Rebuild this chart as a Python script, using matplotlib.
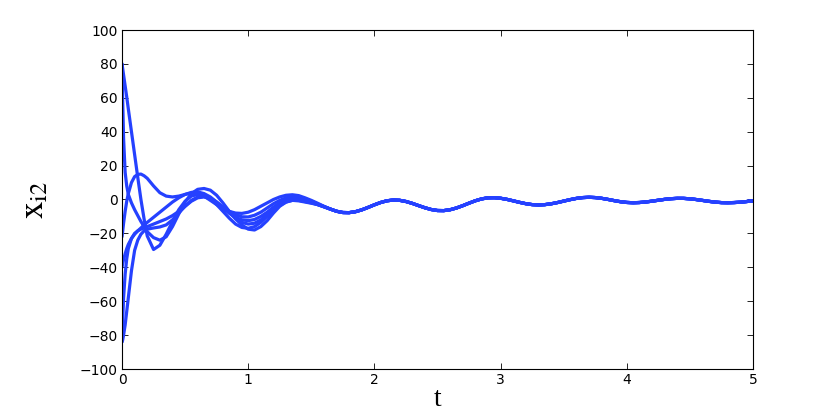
import numpy as np
import matplotlib
matplotlib.use("Agg")
import matplotlib.pyplot as plt

# ---- data ----
t_early = [0, 0.005, 0.0125, 0.025, 0.0375, 0.05, 0.075, 0.1, 0.125, 0.15,
           0.175, 0.2, 0.25, 0.3, 0.35, 0.4, 0.45, 0.5, 0.55, 0.6,
           0.65, 0.7, 0.75, 0.8, 0.85, 0.9, 0.95, 1.0, 1.05, 1.1,
           1.15, 1.2, 1.25, 1.3, 1.35, 1.4, 1.45, 1.5, 1.55, 1.6]

curve1 = [80, 77.5, 73.5, 67, 60.5, 53.5, 40, 26.5, 13, 0,
          -11.5, -21.5, -29.5, -27, -20.5, -13, -6, -1, 2, 3,
          2.5, 0.5, -3, -7, -11, -14.5, -16.5, -17, -16, -13.5,
          -10, -6.5, -3.5, -1.5, -0.5, -0.8, -1.5, -2.2, -3.0, -4.3]
curve2 = [80, 60, 36, 16, 8, 3, -2, -6, -9.5, -13,
          -16, -19, -22.5, -24, -22, -16, -8.5, -1.5, 3.5, 6,
          6.5, 5.5, 2.5, -2, -7, -11.5, -15, -17.5, -18, -16,
          -12.5, -8, -4, -1.5, -0.5, -0.5, -1.2, -2, -3, -4.3]
curve3 = [-22, -19, -14, -7, -1, 3.5, 10, 13.5, 14.8, 15,
          14, 12.5, 8, 4, 2, 1.5, 2, 3, 3.8, 3.5,
          2, -0.5, -3, -5.5, -7, -8, -8.2, -7.5, -6, -4,
          -2, 0, 1.5, 2.5, 2.8, 2.3, 1, -0.5, -2.2, -4]
curve4 = [-40, -38, -35.5, -32, -29, -26.5, -23, -20.5, -18.5, -16.8,
          -15, -13.5, -10.5, -7.5, -4.5, -1.5, 1, 3, 4.2, 4.5,
          3.5, 1.5, -1.5, -4.5, -7, -9, -10.2, -10.3, -9.3, -7.5,
          -5, -2.5, -0.5, 1, 1.8, 1.5, 0.5, -1, -2.6, -4.1]
curve5 = [-84, -72, -58, -44, -35, -29, -23, -20, -18.5, -17.5,
          -16.8, -16, -14.5, -13, -11.5, -9.5, -7, -4, -1, 1,
          1.5, 0.5, -2, -5, -8, -10.5, -12, -12.5, -11.8, -10,
          -7.5, -4.5, -2, 0, 1, 1, 0.2, -1.2, -2.7, -4.2]
curve6 = [-84, -83, -80, -74, -66, -58, -42, -30, -24, -20.5,
          -18.5, -17.5, -16.8, -16.2, -15, -12, -8, -4, -0.5, 1.5,
          1.8, 0.8, -1.5, -4.5, -8, -11, -13.5, -14.5, -14, -12,
          -9, -5.8, -3, -1, 0, 0, -0.6, -1.6, -3, -4.3]

# common trajectory after the curves merge
t_tail = np.round(np.linspace(1.65, 5.0, 68), 2)
x_tail = [-5.63, -6.93, -7.68, -7.75, -7.19, -6.10, -4.67, -3.13, -1.75, -0.75,
          -0.31, -0.48, -1.18, -2.28, -3.59, -4.87, -5.90, -6.50, -6.55, -6.03,
          -5.01, -3.65, -2.15, -0.74, 0.36, 0.99, 1.07, 0.73, 0.08, -0.78, -1.68,
          -2.47, -3.01, -3.2, -3.03, -2.54, -1.81, -0.95, -0.09, 0.64, 1.13, 1.3,
          1.14, 0.70, 0.06, -0.66, -1.30, -1.74, -1.9, -1.78, -1.46, -0.98, -0.43,
          0.08, 0.48, 0.68, 0.66, 0.41, -0.02, -0.54, -1.08, -1.54, -1.83, -1.9,
          -1.8, -1.6, -1.2, -0.8]

curves = [curve1, curve2, curve3, curve4, curve5, curve6]

x_ticks = [0, 1, 2, 3, 4, 5]
y_ticks = [-100, -80, -60, -40, -20, 0, 20, 40, 60, 80, 100]

# ---- plot ----
plt.rcParams['font.family'] = ['DejaVu Sans']
plt.rcParams['mathtext.fontset'] = 'stix'

fig = plt.figure(figsize=(8.3, 4.15), dpi=100)
ax = fig.add_axes([122/830, 1-369/415, (753-122)/830, (369-30)/415])

t_full = np.concatenate([t_early, t_tail])
for c in curves:
    ax.plot(t_full, np.concatenate([c, x_tail]), color='#2541ff', lw=2.3,
            solid_joinstyle='round', solid_capstyle='round')

ax.set_xlim(0, 5)
ax.set_ylim(-100, 100)
ax.set_xticks(x_ticks)
ax.set_yticks(y_ticks)
ax.set_yticklabels([str(v).replace('-', '\u2212') for v in y_ticks])
ax.tick_params(direction='in', length=4, width=0.6, top=True, right=True,
               labelsize=10, pad=3)
for s in ax.spines.values():
    s.set_linewidth(0.8)

ax.set_xlabel('t', family='Liberation Serif', fontsize=20, labelpad=0)
ax.set_ylabel(r'$\mathrm{x}_{\mathrm{i2}}$', fontsize=25)
ax.yaxis.set_label_coords(-0.113, 0.5)

fig.savefig('out.png', dpi=100)
